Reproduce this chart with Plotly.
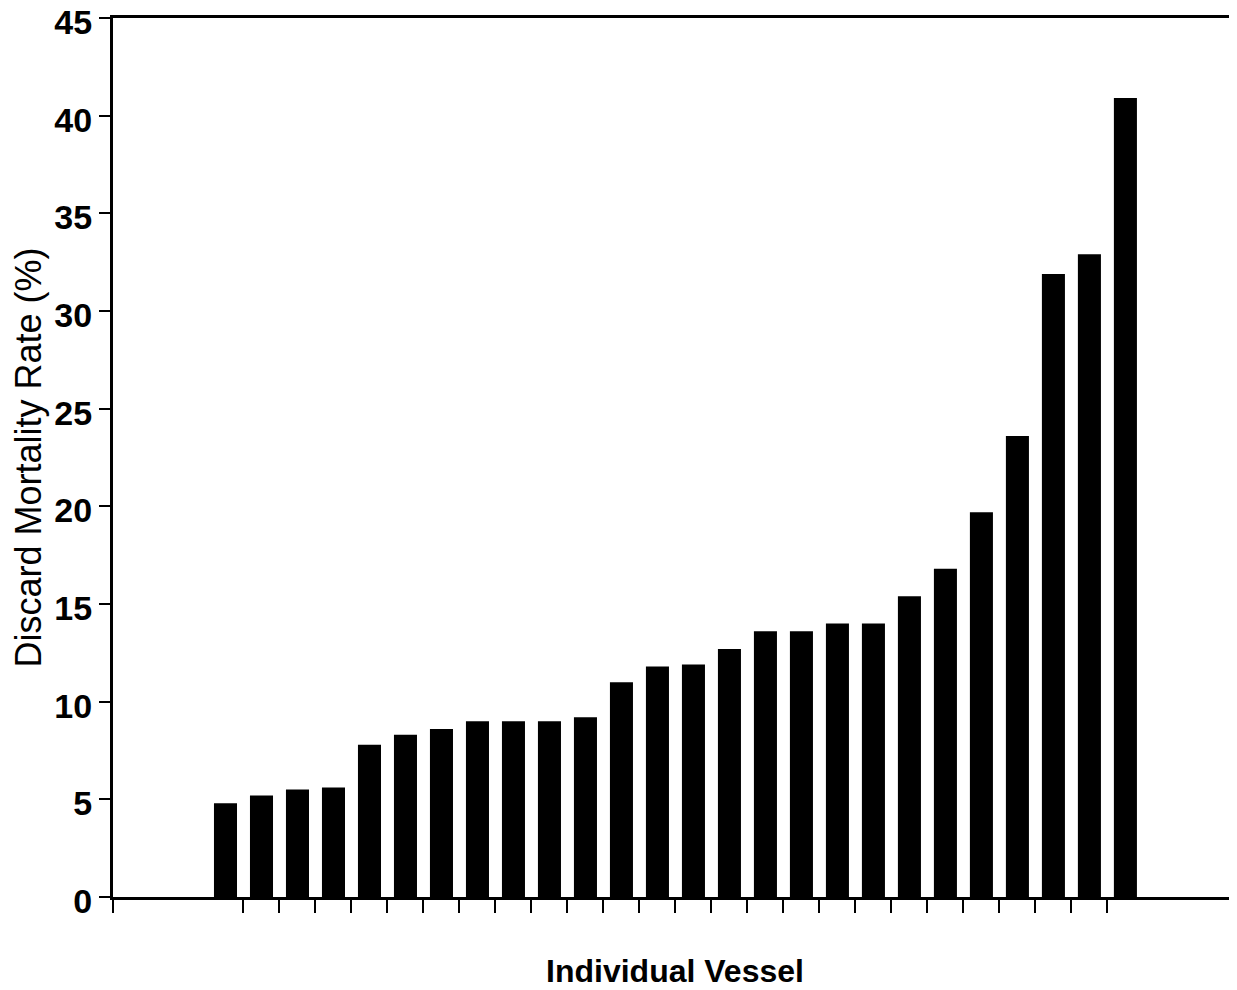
import plotly.graph_objects as go

vessels = list(range(1, 27))
mortality = [4.8, 5.2, 5.5, 5.6, 7.8, 8.3, 8.6, 9.0, 9.0, 9.0, 9.2, 11.0, 11.8,
             11.9, 12.7, 13.6, 13.6, 14.0, 14.0, 15.4, 16.8, 19.7, 23.6, 31.9, 32.9, 40.9]
y_ticks = [0, 5, 10, 15, 20, 25, 30, 35, 40, 45]

x_start = -2.125
x_end = 29.1
x_tickvals = [x_start] + [v + 0.5 for v in vessels[:-1]]

fig = go.Figure(go.Bar(x=vessels, y=mortality, width=0.64,
                       marker=dict(color="black", line=dict(width=0))))

font = "Liberation Sans, Arial, Helvetica, sans-serif"
fig.update_layout(
    width=1229, height=982,
    margin=dict(l=105, r=0, t=10, b=93, autoexpand=False),
    plot_bgcolor="white", paper_bgcolor="white",
    showlegend=False,
    font=dict(family=font, color="black"),
)
fig.update_xaxes(
    range=[x_start, x_end], tickvals=x_tickvals, ticktext=[""] * len(x_tickvals),
    ticks="outside", ticklen=13, tickwidth=2, tickcolor="black",
    showline=True, linecolor="black", linewidth=3, mirror=True,
    showgrid=False, zeroline=False, automargin=False,
    title=dict(text="Individual Vessel", font=dict(size=32, family=font, weight="bold"), standoff=46),
)
fig.update_yaxes(
    range=[0, 45], tickvals=y_ticks,
    ticks="outside", ticklen=11, tickwidth=2, tickcolor="black",
    tickfont=dict(size=34, family=font, weight="bold"),
    ticklabeloverflow="allow", ticklabelshift=4, automargin=False,
    showline=True, linecolor="black", linewidth=3,
    showgrid=False, zeroline=False,
    title=dict(text="Discard Mortality Rate (%)", font=dict(size=36, family=font), standoff=6),
)
fig.write_html("out.html")
